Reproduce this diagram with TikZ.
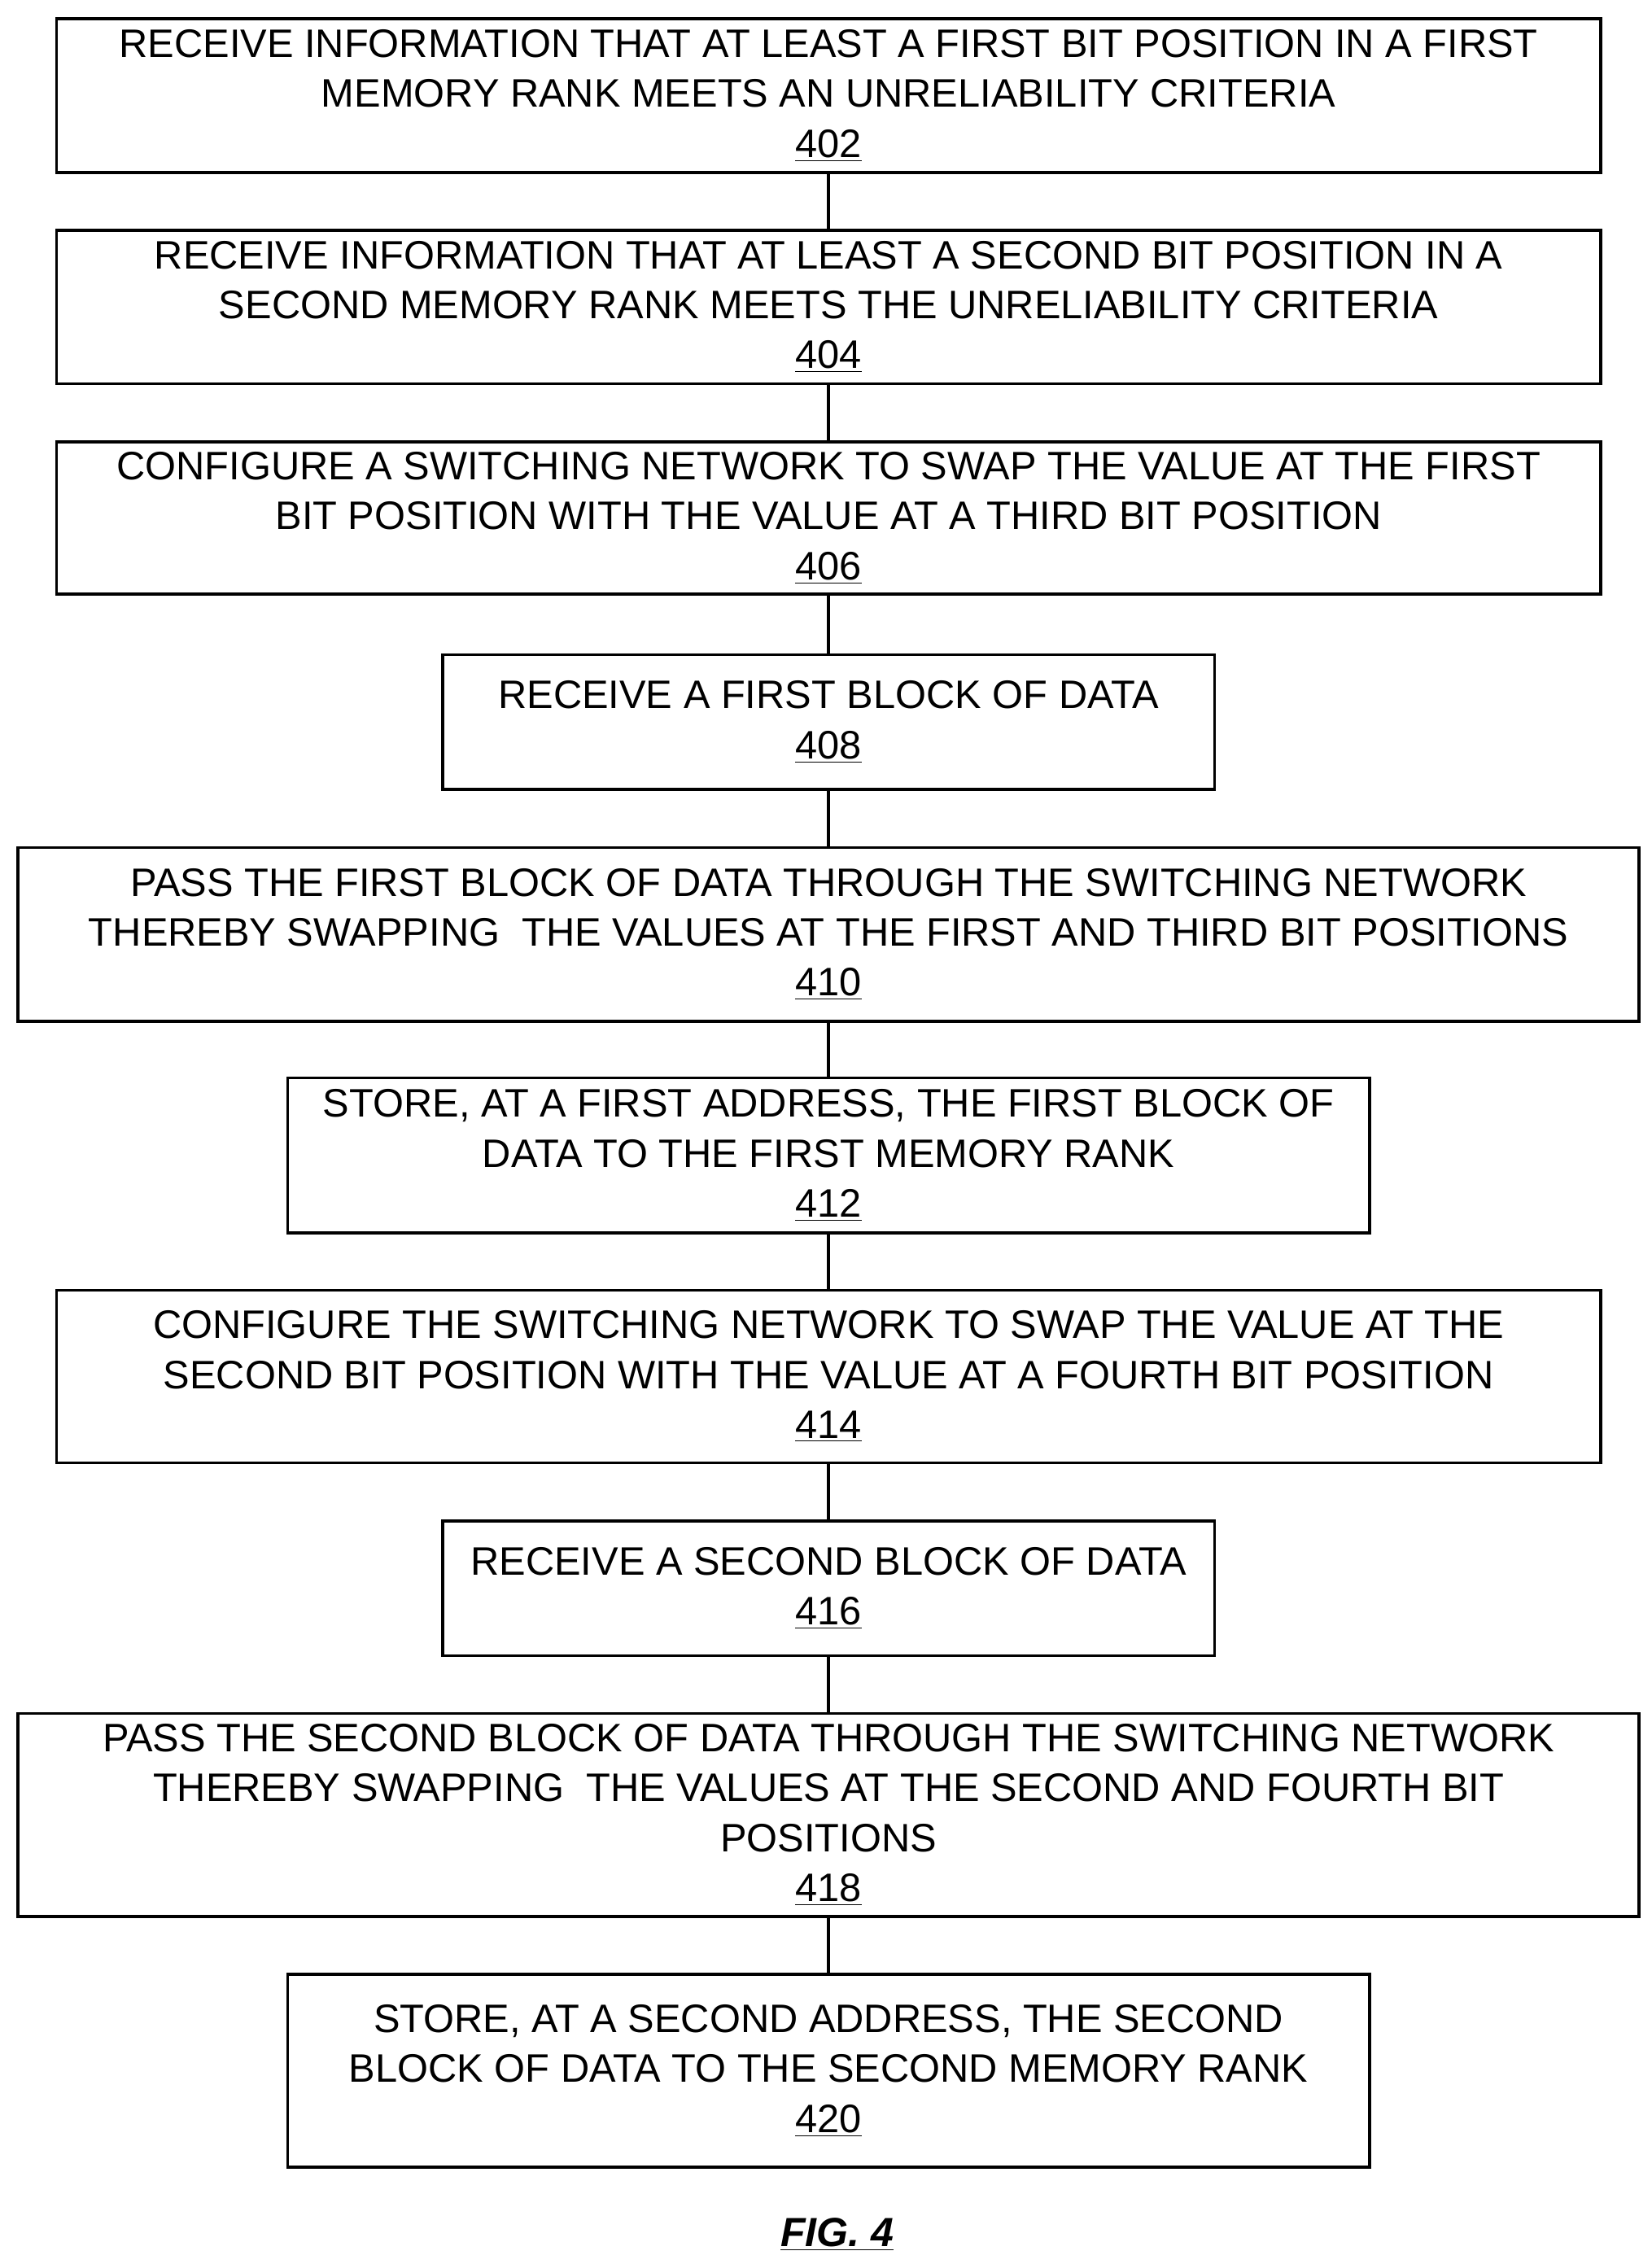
\documentclass[tikz,border=0pt]{standalone}
\usepackage{fontspec}
\setmainfont{Liberation Sans}
\usepackage{tikz}

\tikzset{
  stepbox/.style={draw, line width=1.4pt, align=center, inner sep=0pt,
    font=\fontsize{19.5}{24.5}\selectfont},
  link/.style={line width=1.4pt}
}

\begin{document}
\begin{tikzpicture}
\useasboundingbox (0,0) rectangle (28.5,-39.075);

\node [stepbox, minimum width=26.65cm, minimum height=2.65cm] (s402) at (14.3,-1.65)
  {RECEIVE INFORMATION THAT AT LEAST A FIRST BIT POSITION IN A FIRST\\MEMORY RANK MEETS AN UNRELIABILITY CRITERIA\\\underline{402}};
\node [stepbox, minimum width=26.65cm, minimum height=2.65cm] (s404) at (14.3,-5.3)
  {RECEIVE INFORMATION THAT AT LEAST A SECOND BIT POSITION IN A\\SECOND MEMORY RANK MEETS THE UNRELIABILITY CRITERIA\\\underline{404}};
\node [stepbox, minimum width=26.65cm, minimum height=2.625cm] (s406) at (14.3,-8.94)
  {CONFIGURE A SWITCHING NETWORK TO SWAP THE VALUE AT THE FIRST\\BIT POSITION WITH THE VALUE AT A THIRD BIT POSITION\\\underline{406}};
\node [stepbox, minimum width=13.325cm, minimum height=2.325cm] (s408) at (14.3,-12.46)
  {RECEIVE A FIRST BLOCK OF DATA\\\underline{408}};
\node [stepbox, minimum width=27.975cm, minimum height=3cm] (s410) at (14.3,-16.125)
  {PASS THE FIRST BLOCK OF DATA THROUGH THE SWITCHING NETWORK\\THEREBY SWAPPING\ \ THE VALUES AT THE FIRST AND THIRD BIT POSITIONS\\\underline{410}};
\node [stepbox, minimum width=18.675cm, minimum height=2.675cm] (s412) at (14.3,-19.94)
  {STORE, AT A FIRST ADDRESS, THE FIRST BLOCK OF\\DATA TO THE FIRST MEMORY RANK\\\underline{412}};
\node [stepbox, minimum width=26.65cm, minimum height=2.975cm] (s414) at (14.3,-23.76)
  {CONFIGURE THE SWITCHING NETWORK TO SWAP THE VALUE AT THE\\SECOND BIT POSITION WITH THE VALUE AT A FOURTH BIT POSITION\\\underline{414}};
\node [stepbox, minimum width=13.325cm, minimum height=2.325cm] (s416) at (14.3,-27.41)
  {RECEIVE A SECOND BLOCK OF DATA\\\underline{416}};
\node [stepbox, minimum width=27.975cm, minimum height=3.5cm] (s418) at (14.3,-31.325)
  {PASS THE SECOND BLOCK OF DATA THROUGH THE SWITCHING NETWORK\\THEREBY SWAPPING\ \ THE VALUES AT THE SECOND AND FOURTH BIT\\POSITIONS\\\underline{418}};
\node [stepbox, minimum width=18.675cm, minimum height=3.325cm] (s420) at (14.3,-35.74)
  {STORE, AT A SECOND ADDRESS, THE SECOND\\BLOCK OF DATA TO THE SECOND MEMORY RANK\\\underline{420}};

\foreach \a/\b in {402/404,404/406,406/408,408/410,410/412,412/414,414/416,416/418,418/420}
  \draw [link] (s\a) -- (s\b);

\node [font=\fontsize{20}{24}\selectfont\bfseries\itshape] (fig) at (14.45,-38.57) {\underline{FIG. 4}};
\end{tikzpicture}
\end{document}
